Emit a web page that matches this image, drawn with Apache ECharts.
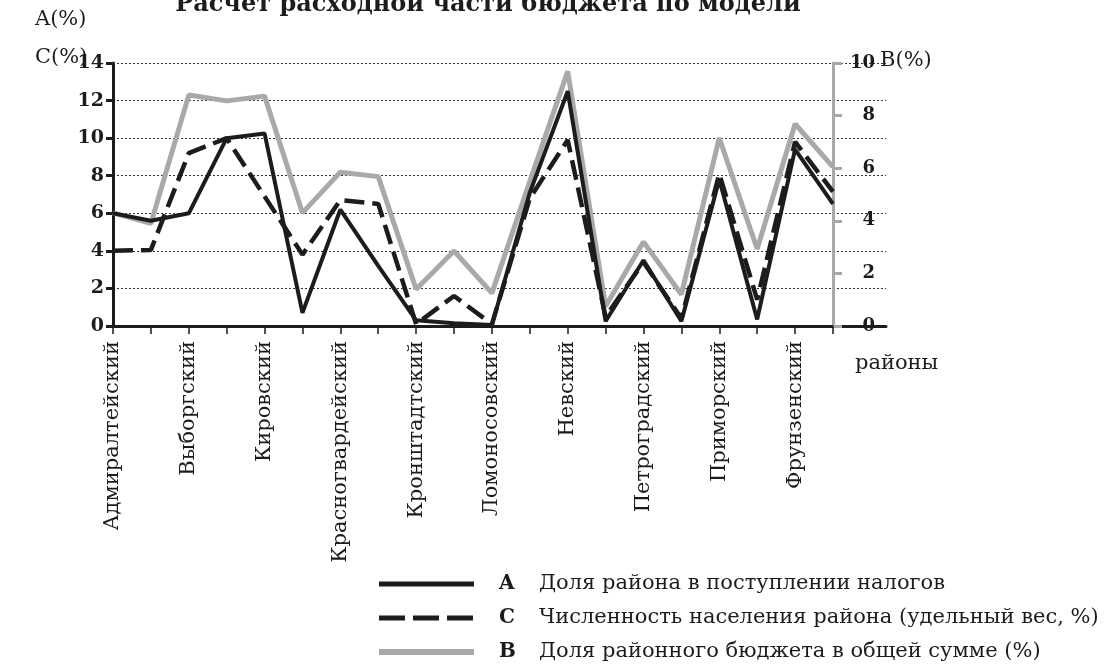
<!DOCTYPE html>
<html>
<head>
<meta charset="utf-8">
<script src="https://cdn.jsdelivr.net/npm/echarts@6/dist/echarts.min.js"></script>
<style>
  html, body { margin: 0; padding: 0; background: #fff; }
  #main { width: 1117px; height: 664px; }
</style>
</head>
<body>
<div id="main"></div>
<script>
// районы Санкт-Петербурга (подписан каждый второй)
const districts = [
  'Адмиралтейский', 'Василеостровский', 'Выборгский', 'Калининский', 'Кировский',
  'Колпинский', 'Красногвардейский', 'Красносельский', 'Кронштадтский', 'Курортный',
  'Ломоносовский', 'Московский', 'Невский', 'Павловский', 'Петроградский',
  'Петродворцовый', 'Приморский', 'Пушкинский', 'Фрунзенский', 'Центральный'
];
// A – доля района в поступлении налогов, %
const shareTaxA = [6.0, 5.6, 6.0, 10.0, 10.25, 0.7, 6.2, 3.2, 0.3, 0.15,
                   0.05, 7.1, 12.5, 0.25, 3.5, 0.25, 7.8, 0.35, 9.4, 6.5];
// C – численность населения района, %
const populationC = [4.0, 4.05, 9.2, 10.0, 6.9, 3.8, 6.7, 6.5, 0.1, 1.6,
                     0.1, 6.8, 9.9, 0.5, 3.4, 0.4, 8.1, 1.4, 9.8, 7.15];
// B – доля районного бюджета в общей сумме, %
const budgetB = [4.3, 3.9, 8.78, 8.56, 8.74, 4.3, 5.85, 5.68, 1.4, 2.85,
                 1.25, 5.5, 9.68, 0.75, 3.2, 1.2, 7.15, 2.93, 7.68, 6.05];
const leftTicks = [0, 14, 2];   // min, max, step  (A, C)
const rightTicks = [0, 10, 2];  // min, max, step  (B)

const names = {
  A: 'Доля района в поступлении налогов',
  C: 'Численность населения района (удельный вес, %)',
  B: 'Доля районного бюджета в общей сумме (%)'
};
const letterOf = {};
Object.keys(names).forEach(k => { letterOf[names[k]] = k; });

const FONT = '"DejaVu Serif", "Liberation Serif", serif';
const INK = '#1c1c1c';
const GREY = '#a9a9a9';

const idx = districts.map((_, i) => i);
const pairs = arr => arr.map((v, i) => [i, v]);

const chart = echarts.init(document.getElementById('main'));
chart.setOption({
  animation: false,
  backgroundColor: '#fff',
  textStyle: { fontFamily: FONT, color: INK },
  title: {
    text: 'Расчет расходной части бюджета по модели',
    left: 483, textAlign: 'center', top: -12,
    textStyle: { fontFamily: FONT, fontSize: 24, fontWeight: 'bold', color: INK }
  },
  grid: { left: 113, right: 231, top: 63, bottom: 338 },
  xAxis: {
    type: 'value',
    min: 0,
    max: 20.4,
    axisLine: { show: true, lineStyle: { color: INK, width: 3 } },
    axisTick: { show: true, length: 8, customValues: idx, lineStyle: { color: INK, width: 1.5 } },
    axisLabel: {
      customValues: idx.filter(i => i % 2 === 0),
      rotate: 90, margin: 15,
      fontFamily: FONT, fontSize: 21, color: INK,
      formatter: v => districts[v] || ''
    },
    splitLine: { show: false }
  },
  yAxis: [{
    type: 'value',
    min: leftTicks[0], max: leftTicks[1], interval: leftTicks[2],
    axisLine: { show: true, lineStyle: { color: INK, width: 3 } },
    axisTick: { show: true, length: 7, lineStyle: { color: INK, width: 3 } },
    axisLabel: { margin: 9, fontFamily: FONT, fontSize: 19, fontWeight: 'bold', color: INK },
    splitLine: { show: true, lineStyle: { color: '#333', width: 1, type: [2, 2] } }
  }, {
    type: 'value',
    position: 'right',
    offset: -53,
    min: rightTicks[0], max: rightTicks[1], interval: rightTicks[2],
    axisLine: { show: true, lineStyle: { color: GREY, width: 3 } },
    axisTick: { show: true, length: 9, lineStyle: { color: GREY, width: 3 } },
    axisLabel: { margin: 42, align: 'right', fontFamily: FONT, fontSize: 18, fontWeight: 'bold', color: INK },
    splitLine: { show: false }
  }],
  legend: {
    orient: 'vertical',
    left: 376, top: 573, padding: 0,
    itemWidth: 95, itemHeight: 10, itemGap: 12,
    itemStyle: { opacity: 0 },
    data: [
      { name: names.A, lineStyle: { width: 5 } },
      { name: names.C, lineStyle: { width: 5, type: [26, 8] } },
      { name: names.B, lineStyle: { width: 6 } }
    ],
    formatter: n => '{l|' + letterOf[n] + '}{t|' + n + '}',
    textStyle: {
      fontFamily: FONT, fontSize: 21, color: INK, lineHeight: 22,
      rich: {
        l: { fontFamily: FONT, fontSize: 20, fontWeight: 'bold', color: INK, lineHeight: 22, width: 40, padding: [0, 0, 0, 20] },
        t: { fontFamily: FONT, fontSize: 21, color: INK, lineHeight: 22 }
      }
    }
  },
  graphic: [
    { type: 'text', left: 35, top: 9, style: { text: 'A(%)', font: '21px ' + FONT, fill: INK } },
    { type: 'text', left: 35, top: 47, style: { text: 'C(%)', font: '21px ' + FONT, fill: INK } },
    { type: 'text', left: 880, top: 50, style: { text: 'B(%)', font: '21px ' + FONT, fill: INK } },
    { type: 'text', left: 855, top: 353, style: { text: 'районы', font: '21px ' + FONT, fill: INK } }
  ],
  series: [{
    name: names.B, type: 'line', yAxisIndex: 1, symbol: 'none',
    data: pairs(budgetB),
    lineStyle: { color: GREY, width: 5 }, itemStyle: { color: GREY }
  }, {
    name: names.A, type: 'line', yAxisIndex: 0, symbol: 'none',
    data: pairs(shareTaxA),
    lineStyle: { color: INK, width: 4 }, itemStyle: { color: INK }
  }, {
    name: names.C, type: 'line', yAxisIndex: 0, symbol: 'none',
    data: pairs(populationC),
    lineStyle: { color: INK, width: 4.5, type: [20, 8] }, itemStyle: { color: INK }
  }]
});
</script>
</body>
</html>
